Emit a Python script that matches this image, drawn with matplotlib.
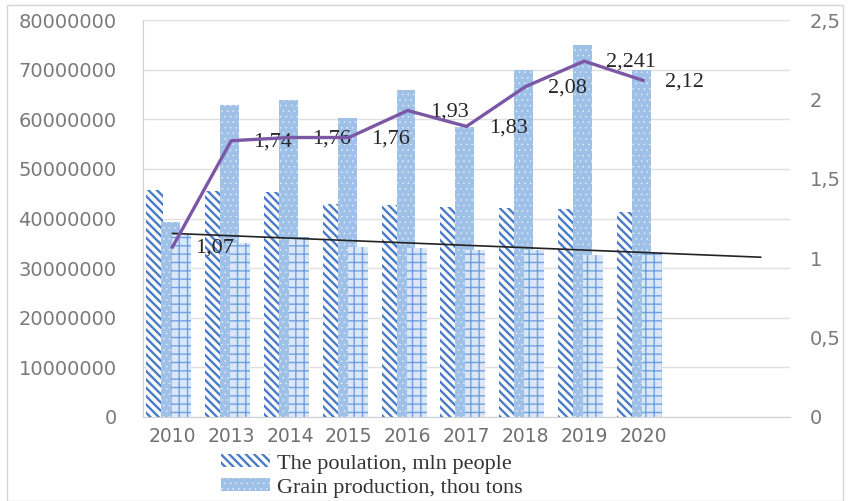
import matplotlib.pyplot as plt
from matplotlib.patches import Rectangle, Patch

years = ['2010', '2013', '2014', '2015', '2016', '2017', '2018', '2019', '2020']
population = [45.8e6, 45.5e6, 45.3e6, 43.0e6, 42.7e6, 42.4e6, 42.2e6, 41.9e6, 41.3e6]
grain = [39.3e6, 62.9e6, 63.9e6, 60.3e6, 65.9e6, 58.5e6, 70.0e6, 75.0e6, 70.0e6]
third = [36.7e6, 35.1e6, 36.3e6, 34.3e6, 34.1e6, 33.7e6, 33.7e6, 32.7e6, 33.3e6]  # grid bars, not in legend
ratio = [1.07, 1.74, 1.76, 1.76, 1.93, 1.83, 2.08, 2.241, 2.12]
ratio_labels = ['1,07', '1,74', '1,76', '1,76', '1,93', '1,83', '2,08', '2,241', '2,12']
trend_x = [0, 10]
trend_y = [37.0e6, 32.2e6]

left_ticks = [0, 10e6, 20e6, 30e6, 40e6, 50e6, 60e6, 70e6, 80e6]
right_ticks = [0, 0.5, 1, 1.5, 2, 2.5]
right_tick_labels = ['0', '0,5', '1', '1,5', '2', '2,5']

fig = plt.figure(figsize=(8.48, 5.01), dpi=100)
ax = fig.add_axes([143/848, 1 - 417/501, (790 - 143)/848, (417 - 20)/501])

x = list(range(len(years)))
plt.rcParams['hatch.linewidth'] = 1.7
ax.bar([i - 0.30 for i in x], population, width=0.29, color='white', edgecolor='#4a7bc8',
       hatch='\\\\\\\\', linewidth=0, zorder=2)
plt.rcParams['hatch.linewidth'] = 0.3
ax.bar([i - 0.03 for i in x], grain, width=0.32, color='#9fc0e7', edgecolor='#eef4fb',
       hatch='...', linewidth=0, zorder=3)
plt.rcParams['hatch.linewidth'] = 1.0
ax.bar([i + 0.15 for i in x], third, width=0.34, color='#dbe7f6', edgecolor='#6f9fe0',
       hatch='++', linewidth=0, zorder=4)

ax.plot(trend_x, trend_y, color='#222222', lw=1.2, zorder=6)

ax.set_xlim(-0.5, 10.5)
ax.set_ylim(0, 80e6)
ax.set_yticks(left_ticks)
ax.set_yticklabels([str(int(v)) for v in left_ticks], fontsize=14, color='#7a7a7a')
ax.set_xticks(x)
ax.set_xticklabels(years, fontsize=13.5, color='#707070')
ax.tick_params(axis='both', length=0)
ax.tick_params(axis='y', pad=19)
ax.tick_params(axis='x', pad=7)
ax.grid(axis='y', color='#e0e0e0', lw=1, zorder=0)
ax.set_axisbelow(True)
for s in ['top', 'right']:
    ax.spines[s].set_visible(False)
ax.spines['left'].set_color('#d0d0d0')
ax.spines['bottom'].set_color('#d0d0d0')

ax2 = ax.twinx()
ax2.set_ylim(0, 2.5)
ax2.set_yticks(right_ticks)
ax2.set_yticklabels(right_tick_labels, fontsize=14, color='#7a7a7a')
ax2.tick_params(axis='y', length=0, pad=14)
for s in ax2.spines.values():
    s.set_visible(False)
ax2.plot(x, ratio, color='#7b57a6', lw=2.4, zorder=7)
for i, v in enumerate(ratio):
    ax2.annotate(ratio_labels[i], (i, v), xytext=(16, -1), textcoords='offset points',
                 ha='left', va='center', fontsize=16, family='Liberation Serif', color='#262626')

h1 = Patch(facecolor='white', edgecolor='#4a7bc8', hatch='\\\\\\\\', linewidth=0)
h2 = Patch(facecolor='#9fc0e7', edgecolor='#eef4fb', hatch='...', linewidth=0)
leg = fig.legend([h1, h2], ['The poulation, mln people', 'Grain production, thou tons'],
                 loc='upper left', bbox_to_anchor=(221/848, 1 - 454/501), frameon=False,
                 prop={'family': 'Liberation Serif', 'size': 16}, handlelength=2.2,
                 handleheight=0.55, handletextpad=0.3, labelspacing=0.2, labelcolor='#333333',
                 borderaxespad=0, borderpad=0)
for p, lw in zip(leg.get_patches(), [1.7, 0.3]):
    p._hatch_linewidth = lw

fig.patches.append(Rectangle((7/848, 0), 836/848, 1 - 5/501, transform=fig.transFigure,
                             fill=False, edgecolor='#d5d5d5', lw=1))

fig.savefig('out.png', dpi=100)
